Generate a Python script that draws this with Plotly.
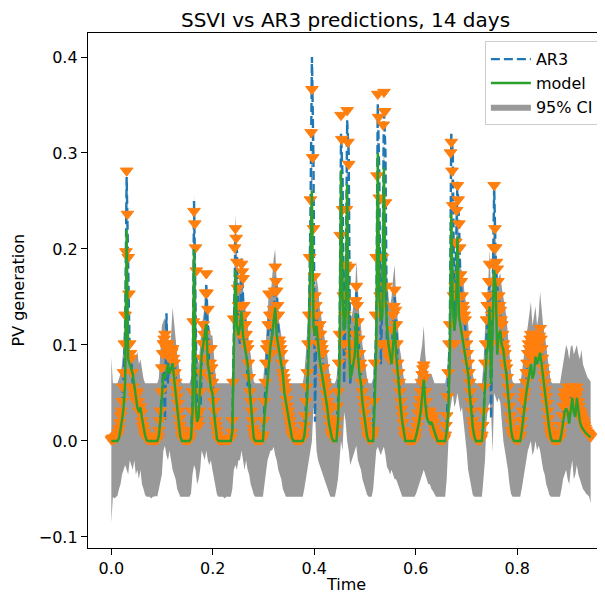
import plotly.graph_objects as go

# ---------------- data (hourly samples) ----------------
TIME_STEP = 0.003018  # one sample per hour in the chart's normalised time units

model = [
    0, 0, 0, 0, 0, 0.003, 0.012, 0.022, 0.035, 0.06, 0.22, 0.085, 0.08, 0.075, 0.07, 0.058, 0.045, 0.035, 0.03, 0.035, 0.024, 0.014, 0.006, 0.001,
    0, 0, 0, 0, 0, 0, 0, 0.005, 0.02, 0.045, 0.07, 0.065, 0.072, 0.08, 0.07, 0.075, 0.081, 0.065, 0.05, 0.035, 0.02, 0.005, 0, 0,
    0, 0, 0, 0, 0.003, 0.03, 0.2, 0.04, 0.02, 0.025, 0.06, 0.09, 0.1, 0.11, 0.122, 0.08, 0.07, 0.055, 0.05, 0.03, 0.012, 0.002, 0, 0,
    0, 0, 0, 0, 0, 0, 0, 0.01, 0.1, 0.178, 0.12, 0.11, 0.12, 0.135, 0.11, 0.1, 0.09, 0.08, 0.06, 0.04, 0.015, 0.003, 0, 0,
    0, 0, 0, 0, 0.025, 0.045, 0.065, 0.085, 0.1, 0.11, 0.125, 0.139, 0.11, 0.1, 0.09, 0.08, 0.07, 0.05, 0.04, 0.03, 0.02, 0.01, 0.003, 0,
    0, 0, 0, 0, 0, 0, 0.005, 0.02, 0.05, 0.1, 0.19, 0.261, 0.12, 0.11, 0.12, 0.1, 0.085, 0.075, 0.065, 0.055, 0.045, 0.035, 0.02, 0.01,
    0.003, 0, 0, 0, 0.02, 0.07, 0.282, 0.15, 0.115, 0.13, 0.268, 0.12, 0.065, 0.07, 0.08, 0.09, 0.133, 0.09, 0.07, 0.06, 0.04, 0.03, 0.015, 0.005,
    0, 0, 0, 0, 0.04, 0.1, 0.3, 0.15, 0.125, 0.13, 0.285, 0.15, 0.12, 0.1, 0.09, 0.08, 0.1, 0.125, 0.09, 0.07, 0.05, 0.035, 0.02, 0.008,
    0, 0, 0, 0, 0, 0, 0, 0.005, 0.012, 0.02, 0.03, 0.045, 0.064, 0.04, 0.025, 0.02, 0.018, 0.02, 0.015, 0.01, 0.004, 0, 0, 0,
    0, 0, 0, 0.01, 0.03, 0.08, 0.237, 0.14, 0.115, 0.13, 0.213, 0.13, 0.12, 0.11, 0.1, 0.09, 0.08, 0.07, 0.05, 0.03, 0.015, 0.005, 0, 0,
    0, 0, 0, 0.02, 0.05, 0.09, 0.1, 0.14, 0.06, 0.12, 0.178, 0.16, 0.09, 0.11, 0.115, 0.1, 0.095, 0.08, 0.07, 0.05, 0.03, 0.012, 0.003, 0,
    0, 0, 0, 0, 0.01, 0.025, 0.036, 0.05, 0.06, 0.07, 0.08, 0.065, 0.07, 0.088, 0.08, 0.085, 0.092, 0.08, 0.065, 0.05, 0.04, 0.025, 0.012, 0.003,
    0, 0, 0, 0, 0, 0, 0.008, 0.02, 0.03, 0.034, 0.03, 0.018, 0.03, 0.045, 0.03, 0.025, 0.045, 0.03, 0.02, 0.015, 0.012, 0.01, 0.008, 0.006, 0.005, 0.004,
]

# observations on the hour
observed = [
    0, 0.002, 0, 0.003, 0.005, 0.012, 0.025, 0.04, 0.07, 0.13, 0.28, 0.19, 0.1, 0.085, 0.055, 0.045, 0.04, 0.05, 0.03, 0.035, 0.02, 0.012, 0.005, 0.002,
    0, 0.001, 0, 0, 0.001, 0, 0, 0.01, 0.03, 0.075, 0.1, 0.11, 0.095, 0.1, 0.085, 0.09, 0.095, 0.08, 0.06, 0.045, 0.03, 0.015, 0.005, 0,
    0, 0, 0.001, 0, 0.01, 0.05, 0.238, 0.2, 0.025, 0.015, 0.05, 0.085, 0.12, 0.1, 0.173, 0.136, 0.065, 0.095, 0.06, 0.04, 0.02, 0.01, 0, 0,
    0, 0, 0, 0.001, 0, 0, 0.002, 0.02, 0.126, 0.22, 0.185, 0.14, 0.11, 0.183, 0.168, 0.13, 0.11, 0.095, 0.065, 0.04, 0.02, 0.008, 0, 0,
    0, 0, 0, 0.005, 0.04, 0.08, 0.1, 0.152, 0.1, 0.12, 0.136, 0.18, 0.155, 0.13, 0.1, 0.09, 0.07, 0.06, 0.05, 0.035, 0.025, 0.015, 0.006, 0.002,
    0, 0, 0, 0, 0, 0.003, 0.015, 0.04, 0.07, 0.13, 0.25, 0.365, 0.22, 0.15, 0.13, 0.1, 0.12, 0.1, 0.09, 0.065, 0.055, 0.04, 0.03, 0.015,
    0.005, 0.002, 0.005, 0.02, 0.05, 0.11, 0.338, 0.24, 0.1, 0.182, 0.343, 0.287, 0.1, 0.085, 0.09, 0.11, 0.16, 0.123, 0.09, 0.075, 0.05, 0.035, 0.02, 0.01,
    0.002, 0, 0.003, 0.01, 0.08, 0.19, 0.36, 0.252, 0.1, 0.19, 0.362, 0.247, 0.1, 0.09, 0.085, 0.1, 0.13, 0.156, 0.12, 0.08, 0.06, 0.04, 0.025, 0.01,
    0.003, 0.001, 0, 0, 0, 0, 0, 0.008, 0.02, 0.035, 0.05, 0.068, 0.078, 0.05, 0.03, 0.025, 0.03, 0.02, 0.025, 0.012, 0.005, 0.002, 0, 0,
    0, 0, 0.005, 0.025, 0.07, 0.12, 0.31, 0.244, 0.1, 0.206, 0.265, 0.225, 0.172, 0.15, 0.136, 0.125, 0.1, 0.08, 0.06, 0.04, 0.02, 0.01, 0.003, 0,
    0, 0, 0.005, 0.03, 0.08, 0.125, 0.15, 0.183, 0.1, 0.165, 0.265, 0.2, 0.178, 0.15, 0.135, 0.12, 0.1, 0.09, 0.075, 0.055, 0.035, 0.018, 0.006, 0.002,
    0.002, 0, 0.001, 0.005, 0.02, 0.04, 0.05, 0.07, 0.09, 0.095, 0.11, 0.085, 0.1, 0.105, 0.09, 0.1, 0.116, 0.095, 0.075, 0.06, 0.045, 0.03, 0.015, 0.006,
    0.001, 0, 0, 0, 0, 0.003, 0.015, 0.035, 0.05, 0.04, 0.055, 0.03, 0.05, 0.055, 0.04, 0.035, 0.055, 0.04, 0.03, 0.025, 0.02, 0.015, 0.01, 0.007, 0.005, 0.003,
]

# observations on the half hour (between consecutive hourly samples)
observed_half = [
    0.001, 0.001, 0.002, 0.004, 0.008, 0.018, 0.03, 0.055, 0.1, 0.196, 0.235, 0.152, 0.09, 0.07, 0.05, 0.045, 0.048, 0.04, 0.03, 0.028, 0.015, 0.008, 0.003, 0.001,
    0, 0, 0, 0, 0, 0, 0.004, 0.02, 0.05, 0.09, 0.105, 0.1, 0.098, 0.09, 0.088, 0.092, 0.085, 0.07, 0.052, 0.038, 0.022, 0.01, 0.002, 0,
    0, 0, 0, 0.004, 0.03, 0.123, 0.225, 0.176, 0.02, 0.03, 0.07, 0.1, 0.11, 0.153, 0.153, 0.095, 0.08, 0.075, 0.05, 0.03, 0.015, 0.005, 0, 0,
    0, 0, 0, 0, 0, 0.001, 0.008, 0.06, 0.2, 0.21, 0.158, 0.12, 0.14, 0.175, 0.14, 0.12, 0.1, 0.08, 0.05, 0.03, 0.012, 0.004, 0, 0,
    0, 0, 0.002, 0.02, 0.06, 0.095, 0.12, 0.13, 0.09, 0.13, 0.155, 0.165, 0.14, 0.104, 0.095, 0.08, 0.065, 0.055, 0.042, 0.03, 0.02, 0.01, 0.004, 0.001,
    0, 0, 0, 0, 0.001, 0.008, 0.025, 0.055, 0.1, 0.19, 0.32, 0.294, 0.17, 0.14, 0.115, 0.11, 0.11, 0.095, 0.075, 0.06, 0.048, 0.035, 0.022, 0.008,
    0.003, 0.003, 0.012, 0.035, 0.08, 0.213, 0.313, 0.15, 0.13, 0.24, 0.31, 0.18, 0.09, 0.088, 0.1, 0.145, 0.14, 0.105, 0.08, 0.06, 0.042, 0.028, 0.015, 0.005,
    0.001, 0.001, 0.006, 0.04, 0.13, 0.275, 0.336, 0.15, 0.14, 0.328, 0.342, 0.16, 0.095, 0.085, 0.09, 0.115, 0.139, 0.135, 0.1, 0.07, 0.05, 0.032, 0.018, 0.005,
    0.002, 0, 0, 0, 0, 0, 0.003, 0.014, 0.028, 0.042, 0.06, 0.074, 0.065, 0.04, 0.028, 0.028, 0.025, 0.022, 0.018, 0.008, 0.003, 0.001, 0, 0,
    0, 0.002, 0.015, 0.045, 0.1, 0.299, 0.28, 0.15, 0.16, 0.239, 0.25, 0.2, 0.165, 0.14, 0.13, 0.11, 0.09, 0.07, 0.05, 0.03, 0.015, 0.006, 0.001, 0,
    0, 0.002, 0.015, 0.055, 0.1, 0.14, 0.165, 0.14, 0.13, 0.2, 0.22, 0.185, 0.165, 0.14, 0.125, 0.11, 0.095, 0.08, 0.065, 0.045, 0.025, 0.01, 0.004, 0.001,
    0.001, 0, 0.003, 0.012, 0.03, 0.045, 0.06, 0.08, 0.1, 0.105, 0.095, 0.09, 0.11, 0.095, 0.095, 0.108, 0.105, 0.085, 0.068, 0.052, 0.038, 0.022, 0.01, 0.003,
    0, 0, 0, 0, 0.001, 0.008, 0.025, 0.045, 0.045, 0.048, 0.04, 0.04, 0.055, 0.048, 0.038, 0.045, 0.05, 0.035, 0.028, 0.022, 0.018, 0.012, 0.008, 0.006, 0.004,
]

ar3 = [
    0, 0.001, 0.001, 0.002, 0.004, 0.01, 0.022, 0.038, 0.065, 0.12, 0.275, 0.2, 0.09, 0.085, 0.06, 0.048, 0.042, 0.045, 0.032, 0.033, 0.022, 0.012, 0.005, 0.002,
    0, 0, 0, 0, 0, 0, 0, 0.006, 0.025, 0.05, 0.08, 0.02, 0.133, 0.06, 0.1, 0.085, 0.09, 0.1, 0.065, 0.04, 0.03, 0.012, 0.003, 0,
    0, 0, 0, 0, 0.005, 0.04, 0.25, 0.12, 0.02, 0.03, 0.02, 0.08, 0.11, 0.1, 0.164, 0.12, 0.07, 0.08, 0.065, 0.04, 0.02, 0.005, 0, 0,
    0, 0, 0, 0, 0, 0, 0, 0.01, 0.1, 0.215, 0.2, 0.12, 0.1, 0.19, 0.15, 0.13, 0.12, 0.057, 0.07, 0.045, 0.022, 0.008, 0, 0,
    0, 0, 0, 0.003, 0.03, 0.07, 0.1, 0.13, 0.12, 0.11, 0.13, 0.17, 0.16, 0.12, 0.1, 0.085, 0.07, 0.06, 0.048, 0.035, 0.025, 0.014, 0.005, 0.002,
    0, 0, 0, 0, 0, 0.002, 0.012, 0.035, 0.065, 0.12, 0.23, 0.4, 0.29, 0.02, 0.14, 0.1, 0.11, 0.1, 0.085, 0.065, 0.05, 0.04, 0.028, 0.014,
    0.004, 0.001, 0.004, 0.015, 0.04, 0.1, 0.32, 0.275, 0.06, 0.15, 0.334, 0.3, 0.06, 0.08, 0.085, 0.1, 0.155, 0.13, 0.085, 0.07, 0.05, 0.035, 0.02, 0.008,
    0.001, 0, 0.002, 0.01, 0.073, 0.12, 0.352, 0.275, 0.08, 0.15, 0.348, 0.3, 0.09, 0.1, 0.08, 0.09, 0.12, 0.15, 0.13, 0.08, 0.06, 0.04, 0.025, 0.01,
    0.002, 0, 0, 0, 0, 0, 0, 0.005, 0.018, 0.03, 0.045, 0.06, 0.075, 0.055, 0.03, 0.025, 0.025, 0.022, 0.02, 0.012, 0.005, 0.001, 0, 0,
    0, 0, 0.003, 0.02, 0.06, 0.11, 0.32, 0.299, 0.115, 0.18, 0.27, 0.23, 0.165, 0.15, 0.13, 0.12, 0.1, 0.08, 0.06, 0.04, 0.02, 0.008, 0.002, 0,
    0, 0, 0.003, 0.02, 0.07, 0.11, 0.14, 0.17, 0.023, 0.15, 0.265, 0.19, 0.16, 0.15, 0.13, 0.115, 0.1, 0.085, 0.07, 0.055, 0.035, 0.015, 0.005, 0.001,
    0.001, 0, 0, 0.003, 0.015, 0.035, 0.048, 0.065, 0.085, 0.09, 0.1, 0.09, 0.095, 0.1, 0.09, 0.095, 0.1, 0.1, 0.08, 0.06, 0.045, 0.03, 0.015, 0.006,
    0.001, 0, 0, 0, 0, 0.002, 0.012, 0.03, 0.045, 0.04, 0.05, 0.035, 0.045, 0.05, 0.04, 0.035, 0.05, 0.04, 0.03, 0.025, 0.02, 0.015, 0.01, 0.007, 0.005, 0.003,
]

ci_upper = [
    0.087, 0.06, 0.06, 0.06, 0.06, 0.065, 0.07, 0.08, 0.1, 0.13, 0.16, 0.14, 0.095, 0.088, 0.09, 0.085, 0.088, 0.093, 0.08, 0.085, 0.075, 0.065, 0.06, 0.06,
    0.06, 0.06, 0.06, 0.06, 0.06, 0.06, 0.06, 0.065, 0.09, 0.12, 0.125, 0.128, 0.12, 0.1, 0.095, 0.11, 0.139, 0.12, 0.1, 0.09, 0.08, 0.065, 0.06, 0.06,
    0.06, 0.06, 0.06, 0.06, 0.065, 0.1, 0.256, 0.2, 0.09, 0.08, 0.1, 0.12, 0.13, 0.14, 0.16, 0.12, 0.12, 0.11, 0.11, 0.09, 0.07, 0.06, 0.06, 0.06,
    0.06, 0.06, 0.06, 0.06, 0.06, 0.06, 0.06, 0.07, 0.16, 0.236, 0.2, 0.16, 0.17, 0.19, 0.16, 0.14, 0.13, 0.12, 0.1, 0.09, 0.075, 0.062, 0.06, 0.06,
    0.06, 0.06, 0.06, 0.06, 0.08, 0.11, 0.13, 0.16, 0.15, 0.17, 0.19, 0.2, 0.16, 0.13, 0.12, 0.11, 0.1, 0.09, 0.075, 0.065, 0.06, 0.06, 0.06, 0.06,
    0.06, 0.06, 0.06, 0.06, 0.06, 0.06, 0.07, 0.09, 0.12, 0.17, 0.25, 0.32, 0.18, 0.16, 0.17, 0.16, 0.14, 0.13, 0.12, 0.11, 0.1, 0.09, 0.075, 0.065,
    0.06, 0.06, 0.06, 0.065, 0.08, 0.13, 0.33, 0.22, 0.17, 0.19, 0.32, 0.18, 0.13, 0.13, 0.14, 0.15, 0.188, 0.15, 0.13, 0.12, 0.1, 0.09, 0.075, 0.065,
    0.06, 0.06, 0.06, 0.065, 0.1, 0.17, 0.33, 0.21, 0.18, 0.19, 0.32, 0.2, 0.17, 0.15, 0.14, 0.15, 0.17, 0.183, 0.15, 0.12, 0.1, 0.09, 0.075, 0.065,
    0.06, 0.06, 0.06, 0.06, 0.06, 0.06, 0.06, 0.06, 0.065, 0.08, 0.09, 0.1, 0.12, 0.09, 0.075, 0.07, 0.07, 0.07, 0.065, 0.06, 0.06, 0.06, 0.06, 0.06,
    0.06, 0.06, 0.06, 0.07, 0.09, 0.14, 0.3, 0.2, 0.17, 0.19, 0.271, 0.2, 0.18, 0.177, 0.16, 0.15, 0.14, 0.12, 0.1, 0.085, 0.07, 0.062, 0.06, 0.06,
    0.06, 0.06, 0.06, 0.08, 0.11, 0.15, 0.16, 0.2, 0.15, 0.19, 0.24, 0.21, 0.17, 0.17, 0.175, 0.16, 0.15, 0.14, 0.13, 0.11, 0.09, 0.072, 0.062, 0.06,
    0.06, 0.06, 0.06, 0.06, 0.07, 0.085, 0.1, 0.11, 0.12, 0.13, 0.145, 0.12, 0.13, 0.14, 0.12, 0.13, 0.155, 0.135, 0.12, 0.11, 0.1, 0.085, 0.07, 0.062,
    0.06, 0.06, 0.06, 0.06, 0.06, 0.06, 0.07, 0.08, 0.09, 0.1, 0.095, 0.085, 0.098, 0.1, 0.09, 0.095, 0.1, 0.09, 0.085, 0.095, 0.08, 0.075, 0.07, 0.066, 0.064, 0.062,
]

ci_lower = [
    -0.085, -0.058, -0.06, -0.058, -0.057, -0.05, -0.045, -0.035, -0.03, -0.025, -0.03, -0.035, -0.02, -0.025, -0.03, -0.02, -0.035, -0.03, -0.04, -0.03, -0.045, -0.05, -0.056, -0.058,
    -0.058, -0.058, -0.06, -0.058, -0.058, -0.057, -0.058, -0.05, -0.04, -0.035, -0.01, -0.005, -0.015, -0.02, -0.01, -0.02, -0.03, -0.035, -0.04, -0.05, -0.055, -0.058, -0.058, -0.058,
    -0.058, -0.058, -0.058, -0.058, -0.055, -0.035, -0.025, -0.03, -0.045, -0.04, -0.03, -0.01, -0.015, -0.02, -0.01, -0.02, -0.025, -0.02, -0.03, -0.04, -0.05, -0.056, -0.058, -0.058,
    -0.058, -0.058, -0.06, -0.058, -0.058, -0.058, -0.058, -0.05, -0.03, -0.025, -0.03, -0.02, -0.02, -0.01, -0.02, -0.03, -0.02, -0.03, -0.035, -0.045, -0.05, -0.056, -0.058, -0.058,
    -0.058, -0.058, -0.058, -0.058, -0.045, -0.03, -0.02, -0.015, -0.01, -0.01, -0.006, -0.015, -0.02, -0.03, -0.035, -0.04, -0.05, -0.055, -0.058, -0.058, -0.058, -0.058, -0.058, -0.058,
    -0.058, -0.058, -0.058, -0.058, -0.058, -0.058, -0.05, -0.04, -0.03, -0.02, -0.01, 0.0, 0.035, 0.03, -0.01, -0.02, -0.025, -0.03, -0.035, -0.04, -0.045, -0.05, -0.055, -0.058,
    -0.058, -0.058, -0.058, -0.05, -0.04, -0.02, 0.0, -0.01, 0.03, 0.02, 0.0, -0.01, -0.025, -0.02, -0.015, -0.01, -0.005, -0.02, -0.025, -0.03, -0.04, -0.045, -0.05, -0.056,
    -0.058, -0.058, -0.058, -0.05, -0.025, -0.01, -0.006, -0.01, -0.015, -0.01, -0.006, -0.015, -0.027, -0.03, -0.035, -0.03, -0.035, -0.04, -0.04, -0.045, -0.05, -0.055, -0.058, -0.058,
    -0.058, -0.058, -0.058, -0.058, -0.058, -0.058, -0.058, -0.055, -0.05, -0.045, -0.04, -0.035, -0.03, -0.035, -0.04, -0.045, -0.045, -0.05, -0.052, -0.056, -0.058, -0.058, -0.058, -0.058,
    -0.058, -0.058, -0.058, -0.04, 0.0, 0.03, 0.04, 0.05, 0.035, 0.04, 0.05, 0.04, 0.03, 0.035, 0.02, 0.01, -0.01, -0.03, -0.04, -0.05, -0.056, -0.058, -0.058, -0.058,
    -0.058, -0.058, -0.058, -0.04, -0.02, 0.02, 0.035, 0.04, 0.03, -0.012, 0.05, 0.045, 0.04, 0.045, 0.04, 0.02, 0.0, -0.01, -0.02, -0.03, -0.045, -0.055, -0.058, -0.058,
    -0.058, -0.058, -0.058, -0.058, -0.05, -0.04, -0.03, -0.02, -0.01, -0.005, 0.0, -0.015, -0.01, 0.0, -0.01, -0.005, -0.01, -0.02, -0.03, -0.035, -0.045, -0.05, -0.056, -0.058,
    -0.058, -0.058, -0.058, -0.058, -0.058, -0.058, -0.05, -0.04, -0.035, -0.03, -0.04, -0.045, -0.03, -0.02, -0.04, -0.035, -0.025, -0.035, -0.04, -0.045, -0.05, -0.052, -0.055, -0.056, -0.058, -0.065,
]

x_tick_values = [0.0, 0.2, 0.4, 0.6, 0.8]
x_tick_labels = ["0.0", "0.2", "0.4", "0.6", "0.8"]
y_tick_values = [-0.1, 0.0, 0.1, 0.2, 0.3, 0.4]
y_tick_labels = ["\u22120.1", "0.0", "0.1", "0.2", "0.3", "0.4"]

n = len(model)
assert len(observed) == n and len(ar3) == n and len(ci_upper) == n and len(ci_lower) == n
assert len(observed_half) == n - 1
time = [i * TIME_STEP for i in range(n)]
time_half = [(i + 0.5) * TIME_STEP for i in range(n - 1)]

# ---------------- figure ----------------
# The page body has an 8px margin, so the figure is drawn 8px smaller
# and everything is laid out 8px up/left of its place in the reference.
FONT = "DejaVu Sans"
BLUE, ORANGE, GREEN, GREY = "#1f77b4", "#ff7f0e", "#2ca02c", "#999999"
W, H = 597, 586
L, R, T, B = 80, 2, 25, 46
PLOT_H = H - T - B
Y_RANGE = [-0.1115, 0.425]

# Plotly anchors a triangle-down marker above its bounding-box centre
# (top edge r/2 above, tip r below); matplotlib centres its 'v' marker.
# Shift the marker anchor by r/4 so the drawn triangles are centred on the values.
MARKER_SIZE = 11
marker_shift = (MARKER_SIZE / 2) / 4 * (Y_RANGE[1] - Y_RANGE[0]) / PLOT_H
obs_x = time + time_half
obs_y = [v + marker_shift for v in observed + observed_half]

fig = go.Figure()
fig.add_trace(go.Scatter(x=time, y=ci_lower, mode="lines", line=dict(width=0, color=GREY),
                         showlegend=False, hoverinfo="skip"))
fig.add_trace(go.Scatter(x=time, y=ci_upper, mode="lines", line=dict(width=0, color=GREY),
                         fill="tonexty", fillcolor=GREY, name="95% CI", legendrank=3))
fig.add_trace(go.Scatter(x=time, y=ar3, mode="lines", name="AR3", legendrank=1,
                         line=dict(color=BLUE, width=2.4, dash="9px,4px")))
fig.add_trace(go.Scatter(x=obs_x, y=obs_y, mode="markers",
                         marker=dict(symbol="triangle-down", size=MARKER_SIZE, color=ORANGE,
                                     line=dict(width=1, color=ORANGE)),
                         showlegend=False))
fig.add_trace(go.Scatter(x=time, y=model, mode="lines", name="model", legendrank=2,
                         line=dict(color=GREEN, width=2.4)))

axis_common = dict(
    showgrid=False, zeroline=False, showline=True, linecolor="black", linewidth=1.3,
    mirror=True, ticks="outside", ticklen=6, tickwidth=1.3, tickcolor="black",
    tickfont=dict(family=FONT, size=16, color="black"), automargin=False,
)

fig.update_layout(
    width=W, height=H,
    margin=dict(l=L, r=R, t=T, b=B, pad=0),
    paper_bgcolor="white", plot_bgcolor="white",
    font=dict(family=FONT, size=16, color="black"),
    title=dict(text="SSVI vs AR3 predictions, 14 days", x=0.5, xref="paper", xanchor="center",
               y=1 - 12 / H, yref="container", yanchor="middle",
               font=dict(family=FONT, size=20, color="black")),
    xaxis=dict(range=[-0.046, 0.969], tickmode="array", tickvals=x_tick_values,
               ticktext=x_tick_labels, **axis_common),
    yaxis=dict(range=Y_RANGE, tickmode="array", tickvals=y_tick_values,
               ticktext=y_tick_labels, **axis_common),
    legend=dict(x=0.992, xanchor="right", y=0.984, yanchor="top", itemwidth=40,
                bgcolor="rgba(255,255,255,0.8)", bordercolor="#cccccc", borderwidth=1,
                font=dict(family=FONT, size=16, color="black"), traceorder="normal"),
    showlegend=True,
    annotations=[
        dict(text="Time", xref="paper", yref="paper", x=0.5, y=-36 / PLOT_H,
             xanchor="center", yanchor="middle", showarrow=False,
             font=dict(family=FONT, size=16, color="black")),
        dict(text="PV generation", xref="paper", yref="paper", x=-70 / (W - L - R), y=0.5,
             xanchor="center", yanchor="middle", textangle=-90, showarrow=False,
             font=dict(family=FONT, size=16, color="black")),
    ],
)

fig.write_html("out.html")
